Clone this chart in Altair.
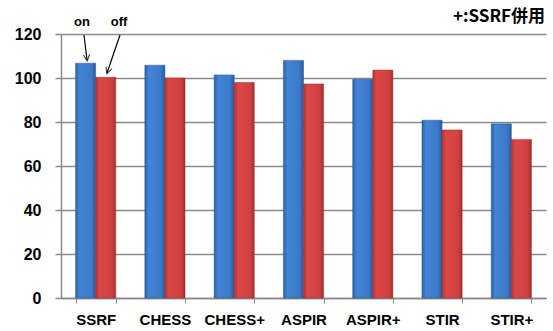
import altair as alt
import pandas as pd

categories = ["SSRF", "CHESS", "CHESS+", "ASPIR", "ASPIR+", "STIR", "STIR+"]
on_values = [106.7, 105.8, 101.4, 108.0, 99.4, 80.8, 79.2]
off_values = [100.3, 100.0, 98.0, 97.3, 103.6, 76.4, 72.1]
series = ["on", "off"]
y_ticks = [0, 20, 40, 60, 80, 100, 120]

rows = []
for c, a, b in zip(categories, on_values, off_values):
    rows.append({"cat": c, "series": "on", "value": a})
    rows.append({"cat": c, "series": "off", "value": b})
df = pd.DataFrame(rows)

blue = alt.Gradient(gradient="linear", x1=0, x2=1, y1=0, y2=0, stops=[
    alt.GradientStop(color="#2f62a6", offset=0),
    alt.GradientStop(color="#4283d6", offset=0.2),
    alt.GradientStop(color="#3c79c8", offset=0.8),
    alt.GradientStop(color="#2b5997", offset=1)])
red = alt.Gradient(gradient="linear", x1=0, x2=1, y1=0, y2=0, stops=[
    alt.GradientStop(color="#b53333", offset=0),
    alt.GradientStop(color="#dc4747", offset=0.2),
    alt.GradientStop(color="#d04040", offset=0.8),
    alt.GradientStop(color="#a52e2e", offset=1)])

x_enc = alt.X("cat:N", sort=categories, title=None,
              scale=alt.Scale(paddingInner=0.42, paddingOuter=0.21),
              axis=alt.Axis(labelFont="Liberation Sans", labelFontWeight="bold",
                            labelFontSize=15, labelColor="#000", labelAngle=0,
                            labelPadding=9, tickBand="extent", tickColor="#888",
                            tickSize=5, domainColor="#888", domainWidth=1.5,
                            grid=False))
y_enc = alt.Y("value:Q", title=None,
              scale=alt.Scale(domain=[0, 120], nice=False),
              axis=alt.Axis(values=y_ticks, labelFont="Liberation Sans",
                            labelFontWeight="bold", labelFontSize=16,
                            labelColor="#000", labelPadding=14,
                            tickColor="#888", tickSize=6, tickWidth=1.5,
                            domainColor="#888", domainWidth=1.5,
                            gridColor="#8a8a8a", gridWidth=1.5))
xo = alt.XOffset("series:N", sort=series, scale=alt.Scale(paddingInner=0))

base = alt.Chart(df).encode(x=x_enc, y=y_enc, xOffset=xo)
bars_on = base.transform_filter(alt.datum.series == "on").mark_bar(color=blue, stroke="#2a5690", strokeWidth=0.5)
bars_off = base.transform_filter(alt.datum.series == "off").mark_bar(color=red, stroke="#9c2c2c", strokeWidth=0.5)

ann_font = dict(font="Liberation Sans", fontWeight="bold", fontSize=13, color="#000")
t_on = alt.Chart().mark_text(**ann_font).encode(x=alt.value(21), y=alt.value(-12), text=alt.value("on"))
t_off = alt.Chart().mark_text(**ann_font).encode(x=alt.value(58), y=alt.value(-12), text=alt.value("off"))
t_note = alt.Chart().mark_text(font="Noto Sans CJK JP", fontWeight="bold", fontSize=17,
                               color="#000", align="right").encode(
    x=alt.value(484), y=alt.value(-17), text=alt.value("+:SSRF併用"))

arr1 = alt.Chart().mark_rule(color="#000", strokeWidth=1.2).encode(
    x=alt.value(23), y=alt.value(1), x2=alt.value(26), y2=alt.value(26))
arr2 = alt.Chart().mark_rule(color="#000", strokeWidth=1.2).encode(
    x=alt.value(59), y=alt.value(1), x2=alt.value(46), y2=alt.value(39))
head1 = alt.Chart().mark_point(shape="M-1,-1.4L0,0.6L1,-1.4", filled=False, color="#000",
                               strokeWidth=1.2, size=40, angle=353).encode(
    x=alt.value(26), y=alt.value(25))
head2 = alt.Chart().mark_point(shape="M-1,-1.4L0,0.6L1,-1.4", filled=False, color="#000",
                               strokeWidth=1.2, size=40, angle=20).encode(
    x=alt.value(46.5), y=alt.value(38))

chart = alt.layer(bars_on, bars_off, arr1, arr2, head1, head2, t_on, t_off, t_note).properties(
    width=485, height=264,
    padding={"left": 61, "top": 34, "right": 7, "bottom": 33},
    autosize=alt.AutoSizeParams(type="none"),
    background="#ffffff",
).configure_view(stroke=None)

chart.save("out.html", embed_options={"renderer": "svg", "actions": False})
